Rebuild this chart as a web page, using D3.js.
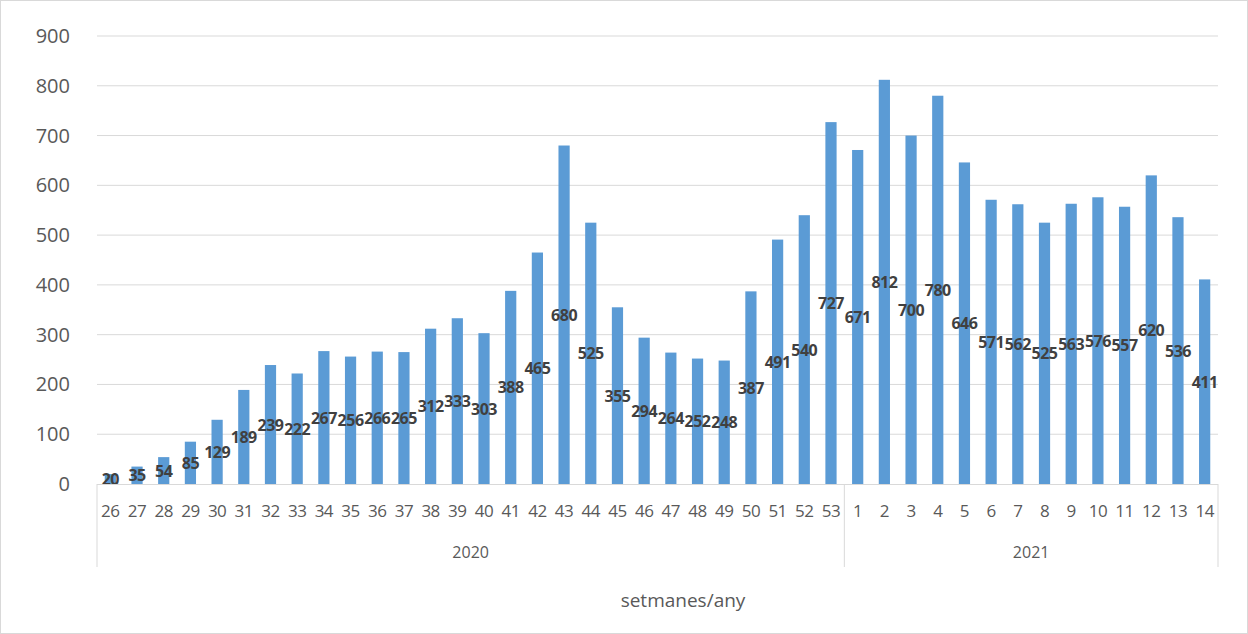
<!DOCTYPE html>
<html><head><meta charset="utf-8">
<script src="https://cdn.jsdelivr.net/npm/d3@7"></script>
<style>body{margin:0;background:#fff}</style></head>
<body><svg id="c" width="1248" height="634"></svg>
<script>
const weeks = [26,27,28,29,30,31,32,33,34,35,36,37,38,39,40,41,42,43,44,45,46,47,48,49,50,51,52,53,1,2,3,4,5,6,7,8,9,10,11,12,13,14];
const years = ["2020","2021"];
const yearOf = weeks.map((w, i) => i < 28 ? "2020" : "2021");
const values = [20,35,54,85,129,189,239,222,267,256,266,265,312,333,303,388,465,680,525,355,294,264,252,248,387,491,540,727,671,812,700,780,646,571,562,525,563,576,557,620,536,411];
const yTicks = [0,100,200,300,400,500,600,700,800,900];
const font = "'Open Sans', 'Noto Sans', sans-serif";

const svg = d3.select("#c");
svg.append("rect").attr("x",0.5).attr("y",0.5).attr("width",1247).attr("height",633)
  .attr("fill","none").attr("stroke","#d9d9d9");
const L = 97, R = 1218, T = 36, B = 484;
const x = d3.scaleBand().domain(d3.range(weeks.length)).range([L, R]).paddingInner(0.58).paddingOuter(0.29);
const xs = d3.scaleBand().domain(d3.range(weeks.length)).range([L, R]);
const y = d3.scaleLinear().domain([0, 900]).range([B, T]);

svg.append("g").selectAll("line").data(yTicks.slice(1)).join("line")
  .attr("x1", L).attr("x2", R).attr("y1", d => y(d)).attr("y2", d => y(d))
  .attr("stroke", "#d9d9d9");
svg.append("g").selectAll("text").data(yTicks).join("text")
  .attr("x", 70).attr("y", d => y(d) + 7).attr("text-anchor", "end")
  .attr("font-family", font).attr("font-size", 20).attr("fill", "#595959")
  .text(d => d);

svg.append("g").selectAll("rect").data(values).join("rect")
  .attr("x", (d, i) => x(i)).attr("width", x.bandwidth())
  .attr("y", d => y(d)).attr("height", d => B - y(d)).attr("fill", "#5b9bd5");

svg.append("g").selectAll("text").data(values).join("text")
  .attr("x", (d, i) => xs(i) + xs.bandwidth() / 2).attr("y", d => (y(d) + B) / 2 + 6)
  .attr("text-anchor", "middle").attr("font-family", font).attr("letter-spacing", -0.5)
  .attr("font-weight", "bold").attr("font-size", 16).attr("fill", "#404040").text(d => d);

// category axis
const ax = svg.append("g").attr("stroke", "#d9d9d9");
ax.append("line").attr("x1", L).attr("x2", R).attr("y1", B + 0.5).attr("y2", B + 0.5);
ax.selectAll("line.t").data(d3.range(weeks.length + 1)
    .filter(i => i === 0 || i === weeks.length || yearOf[i] !== yearOf[i - 1])).join("line").attr("class", "t")
  .attr("x1", i => i < weeks.length ? xs(i) : R).attr("x2", i => i < weeks.length ? xs(i) : R)
  .attr("y1", B).attr("y2", 567);
svg.append("g").selectAll("text").data(weeks).join("text")
  .attr("x", (d, i) => xs(i) + xs.bandwidth() / 2).attr("y", 517).attr("text-anchor", "middle")
  .attr("font-family", font).attr("font-size", 17).attr("letter-spacing", -0.5).attr("fill", "#595959").text(d => d);
svg.append("g").selectAll("text").data(years).join("text")
  .attr("x", yr => {
    const idx = d3.range(weeks.length).filter(i => yearOf[i] === yr);
    return (xs(idx[0]) + xs(idx[idx.length - 1]) + xs.bandwidth()) / 2;
  }).attr("y", 558).attr("text-anchor", "middle")
  .attr("font-family", font).attr("font-size", 16).attr("fill", "#595959").text(d => d);
svg.append("text").attr("x", 683).attr("y", 607).attr("text-anchor", "middle")
  .attr("font-family", font).attr("font-size", 19).attr("fill", "#595959").text("setmanes/any");
</script></body></html>
